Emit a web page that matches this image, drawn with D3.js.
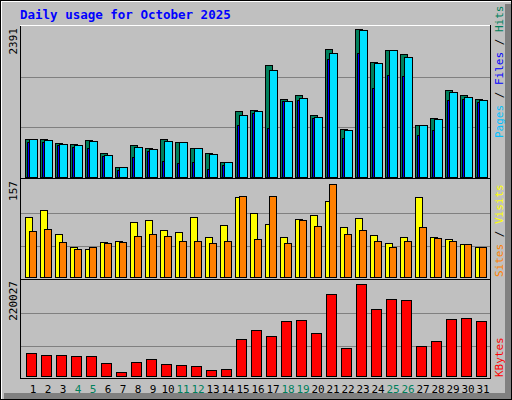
<!DOCTYPE html>
<html><head><meta charset="utf-8">
<script src="https://d3js.org/d3.v7.min.js"></script>
<style>body{margin:0;background:#fff}</style></head>
<body><svg id="c" width="512" height="400"></svg>
<script>
const days = d3.range(1,32);
const weekend = [4,5,11,12,18,19,25,26];
const hits  = [606,606,542,526,590,383,159,510,462,606,558,462,383,239,1052,1068,1785,1243,1307,988,2040,765,2359,1833,2024,1961,829,940,1387,1307,1243];
const files = [606,590,526,510,574,351,159,478,446,574,558,462,367,239,988,1052,1706,1211,1259,956,1977,749,2343,1817,2024,1913,829,925,1355,1275,1227];
const pages = [558,558,510,478,462,335,112,319,414,255,223,239,128,191,829,1020,781,1211,1227,940,1881,622,1977,1419,1626,1610,669,749,1227,1243,1196];
const visits= [98,109,71,50,47,58,60,90,93,77,74,99,66,85,130,104,87,66,95,101,123,82,96,69,57,66,130,66,63,55,50];
const sites = [76,79,58,47,50,57,58,68,71,68,61,61,57,60,131,63,131,57,93,84,150,71,77,60,50,61,82,65,61,55,50];
const kbytes= [55450,50960,50960,48720,48720,33000,12800,35250,41980,30760,28510,26270,17290,19530,86880,107090,93620,127290,129540,100350,187910,66680,210360,154230,176680,174440,71170,82390,131780,134030,127290];
const maxHits=2391, maxVisits=157, maxKB=220027;

const svg=d3.select("#c");
const font="'DejaVu Sans Mono', monospace";
svg.append("rect").attr("x",0).attr("y",0).attr("width",512).attr("height",400).attr("fill","#c0c0c0");
// bevel
svg.append("path").attr("d","M1,399V1H511").attr("stroke","#fff").attr("stroke-width",2).attr("fill","none");
svg.append("path").attr("d","M508,4V396H4").attr("stroke","#808080").attr("stroke-width",6).attr("fill","none");
svg.append("rect").attr("x",0.5).attr("y",0.5).attr("width",511).attr("height",399).attr("fill","none").attr("stroke","#000");

svg.append("text").attr("x",20).attr("y",19).attr("font-family",font).attr("font-weight","bold")
  .attr("font-size",12.5).attr("fill","#0000ff").text("Daily usage for October 2025");

const L=20,R=490;
const x=d3.scaleBand().domain(days).range([L+4,L+4+15*31]);
// panel frames
svg.append("rect").attr("x",L+.5).attr("y",25.5).attr("width",R-L).attr("height",353).attr("fill","none").attr("stroke","#000");
svg.append("path").attr("d",`M${L},25.5H${R}`).attr("stroke","#fff");
[178.5,279.5].forEach(y=>svg.append("line").attr("x1",L).attr("x2",R+1).attr("y1",y).attr("y2",y).attr("stroke","#000"));

function grid(y0,y1){const h=(y1-y0)/3;[1,2].forEach(i=>svg.append("line").attr("x1",L+1).attr("x2",R).attr("y1",Math.round(y0+h*i)+.5).attr("y2",Math.round(y0+h*i)+.5).attr("stroke","#808080"));}
grid(27,177); grid(180,279); grid(280,379);

function bars(data,y,dx,w,color,base){
  svg.append("g").selectAll("rect").data(data).join("rect")
   .attr("x",(d,i)=>x(days[i])+dx+.5).attr("width",w)
   .attr("y",d=>Math.round(y(d))+.5).attr("height",d=>Math.max(0,base-Math.round(y(d))))
   .attr("fill",color).attr("stroke","#000");
}
const yT=d3.scaleLinear().domain([0,maxHits]).range([177,27]);
bars(hits,yT,1,7,"#00805c",177);
bars(pages,yT,3,2,"#0000ff",177);
bars(files,yT,5,8,"#00e0ff",177);
const yM=d3.scaleLinear().domain([0,maxVisits]).range([279,180]);
bars(visits,yM,1,7,"#ffff00",277);
bars(sites,yM,5,7,"#ff8000",277);
const yB=d3.scaleLinear().domain([0,maxKB]).range([378,280]);
bars(kbytes,yB,2,10,"#ff0000",376);

// day labels
svg.append("g").selectAll("text").data(days).join("text")
 .attr("x",d=>x(d)+9).attr("y",393).attr("text-anchor","middle").attr("font-family",font).attr("font-size",11)
 .attr("fill",d=>weekend.includes(d)?"#00805c":"#000").text(d=>d);

// y max labels
function ylab(t,y){svg.append("text").attr("transform",`translate(17,${y}) rotate(-90)`).attr("text-anchor","end")
 .attr("font-family",font).attr("font-size",11).attr("fill","#000").text(t);}
ylab(String(maxHits),28); ylab(String(maxVisits),181); ylab(String(maxKB),281);

// right legends
function rlab(parts,yBottom){const t=svg.append("text").attr("transform",`translate(503,${yBottom}) rotate(-90)`)
 .attr("font-family",font).attr("font-size",11);
 parts.forEach(p=>t.append("tspan").attr("fill",p[1]).text(p[0]));}
rlab([["Pages","#00c0ff"],[" / ","#000"],["Files","#0000ff"],[" / ","#000"],["Hits","#00805c"]],138);
rlab([["Sites","#ff8000"],[" / ","#000"],["Visits","#ffff00"]],277);
rlab([["KBytes","#ff0000"]],377);
</script></body></html>
